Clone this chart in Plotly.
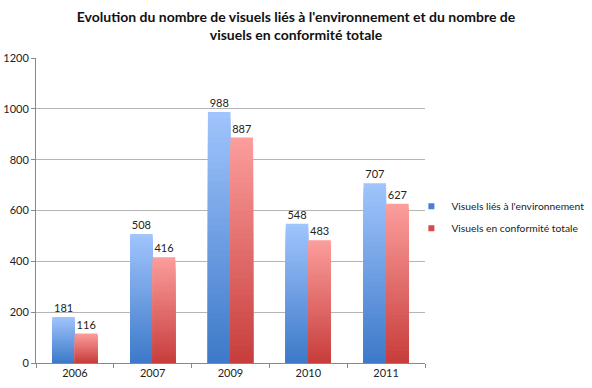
import plotly.graph_objects as go

categories = ["2006", "2007", "2009", "2010", "2011"]
series1_name = "Visuels liés à l'environnement"
series1 = [181, 508, 988, 548, 707]
series2_name = "Visuels en conformité totale"
series2 = [116, 416, 887, 483, 627]
y_ticks = [0, 200, 400, 600, 800, 1000, 1200]

N = 40  # gradient steps


def lerp(c1, c2, t):
    return "rgb(%d,%d,%d)" % tuple(round(a + (b - a) * t) for a, b in zip(c1, c2))


fig = go.Figure()

specs = [
    (series1, "g1", (59, 120, 200), (160, 196, 252)),
    (series2, "g2", (198, 60, 58), (251, 157, 155)),
]
for vals, grp, bottom, top in specs:
    for i in range(N):
        frac = (N - i) / N
        fig.add_trace(go.Bar(
            x=categories,
            y=[v * frac for v in vals],
            offsetgroup=grp,
            marker=dict(color=lerp(bottom, top, frac), line=dict(width=0)),
            showlegend=False,
            hoverinfo="skip",
            text=[str(v) for v in vals] if i == 0 else None,
            textposition="outside" if i == 0 else None,
            textfont=dict(family="Lato", size=11, color="#222"),
            cliponaxis=False,
        ))

fig.add_trace(go.Scatter(x=[None], y=[None], mode="markers", name=series1_name,
                         marker=dict(symbol="square", size=6, color="#4a7fd4"),
                         legendgroup="a"))
fig.add_trace(go.Scatter(x=[None], y=[None], mode="markers", name=series2_name,
                         marker=dict(symbol="square", size=6, color="#d94a48"),
                         legendgroup="b"))

fig.update_layout(
    width=592, height=388,
    margin=dict(l=36, r=167, t=58, b=25, autoexpand=False),
    paper_bgcolor="white", plot_bgcolor="white",
    barmode="group", bargap=0.42, bargroupgap=0,
    font=dict(family="Lato", size=11, color="#222"),
    title=dict(
        text="Evolution du nombre de visuels liés à l'environnement et du nombre de<br>visuels en conformité totale",
        font=dict(family="Lato", size=14, color="#111", weight="bold"),
        x=0.5, xanchor="center", xref="container",
        yref="container", y=1 - 22 / 388, yanchor="top",
    ),
    legend=dict(x=0.965, xanchor="left", y=0.478, yanchor="middle",
                font=dict(family="Lato", size=10.3, color="#222"),
                tracegroupgap=3, traceorder="grouped", bgcolor="rgba(0,0,0,0)"),
    xaxis=dict(
        type="category", showgrid=False, showline=True, linecolor="#888", linewidth=1,
        ticks="outside", tickson="boundaries", ticklen=4, tickcolor="#888",
        tickfont=dict(family="Lato", size=11, color="#222"), automargin=False,
    ),
    yaxis=dict(
        range=[0, 1200], tickvals=y_ticks, showgrid=True, gridcolor="#b5b5b5", gridwidth=1,
        showline=True, linecolor="#888", linewidth=1, ticks="outside", ticklen=4,
        tickcolor="#888", zeroline=False, automargin=False,
        tickfont=dict(family="Lato", size=11, color="#222"),
    ),
)

fig.write_html("out.html", config={"displayModeBar": False},
               post_script="document.body.style.margin='0';")
